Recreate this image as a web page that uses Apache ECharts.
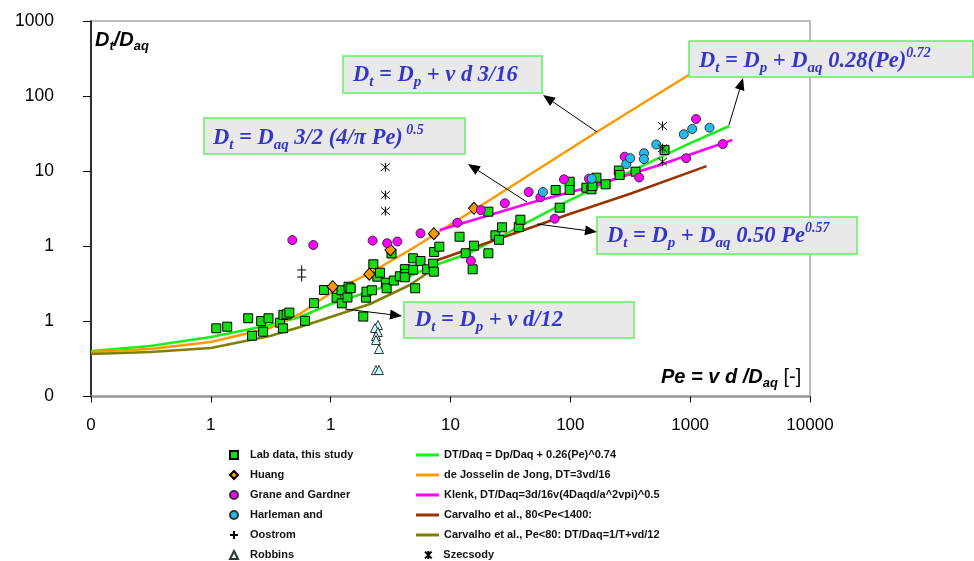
<!DOCTYPE html>
<html><head><meta charset="utf-8">
<script src="https://cdn.jsdelivr.net/npm/echarts@6/dist/echarts.min.js"></script>
<style>html,body{margin:0;padding:0;background:#fff}#c{width:974px;height:561px}</style>
</head><body><div id="c"></div>
<script>
// ---- tick labels ----
const xTickValues = [0.01, 0.1, 1, 10, 100, 1000, 10000];
const xTickLabels = ['0', '1', '1', '10', '100', '1000', '10000'];
const yTickValues = [0.01, 0.1, 1, 10, 100, 1000];
const yTickLabels = ['0', '1', '1', '10', '100', '1000'];

// ---- scatter data (Pe, Dt/Daq) ----
const labPe = [0.111,0.137,0.205,0.221,0.263,0.273,0.303,0.378,0.403,0.400,0.430,0.452,0.611,0.726,0.879,1.12,1.23,1.24,1.38,1.41,1.47,1.87,1.97,1.99,2.21,2.27,2.45,2.58,2.89,2.93,3.22,3.37,3.78,4.16,4.20,4.16,4.88,4.88,5.07,5.62,6.38,7.16,7.26,7.30,8.07,11.9,13.4,15.7,15.3,20.7,20.7,23.7,25.4,26.9,37.1,38.3,81.5,75.4,98.7,98.7,136,150,153,165,197,254,258,350,611];
const labDt = [0.0809,0.085,0.110,0.0645,0.101,0.0729,0.110,0.0961,0.122,0.0809,0.124,0.131,0.102,0.175,0.262,0.207,0.260,0.174,0.208,0.290,0.276,0.116,0.207,0.249,0.260,0.576,0.394,0.445,0.328,0.276,0.802,0.350,0.399,0.496,0.428,0.387,0.692,0.488,0.276,0.637,0.494,0.587,0.459,0.840,0.988,1.34,0.807,1.02,0.494,2.89,0.807,1.40,1.22,1.79,1.81,2.26,3.27,5.62,7.25,5.62,6.03,5.74,6.35,8.19,6.69,10.2,8.90,9.85,19.2];

const huangPe = [1.04, 2.10, 3.15, 7.26, 15.7];
const huangDt = [0.290, 0.425, 0.893, 1.47, 3.21];

const granePe = [0.479,0.716,2.24,2.96,3.60,5.62,11.4,14.8,17.9,28.4,44.9,56.2,74.0,88.5,143,284,375,926,1120,1870];
const graneDt = [1.21,1.04,1.19,1.10,1.16,1.49,2.06,0.643,3.04,3.74,5.28,4.49,2.33,7.80,7.95,15.6,8.24,14.9,49.6,23.0];

const harlemanPe = [59.1,151,293,316,412,411,521,885,1040,1450];
const harlemanDt = [5.28,7.95,12.4,14.9,17.3,14.5,22.7,31.0,36.5,38.0];

const oostromPe = [0.573, 0.573];
const oostromDt = [0.484, 0.390];

const robbinsPe = [2.48,2.34,2.48,2.39,2.39,2.53,2.39,2.53];
const robbinsDt = [0.0896,0.0817,0.0723,0.0639,0.0565,0.0429,0.0225,0.0225];

const szecsodyPe = [2.86,2.86,2.86,588,588,588];
const szecsodyDt = [11.3,4.82,2.95,40.0,20.2,13.4];

// ---- model curves ----
const fitPe = [0.01,0.0312,0.1,0.312,0.555,1,3.12,6.72,14.5,45.8,100,312,1000,2130];
const fitDt = [0.0404,0.047,0.062,0.0896,0.1145,0.1705,0.305,0.530,0.814,2.17,4.14,9.76,23.7,40.0];

const jongPe = [0.01,0.0312,0.1,0.312,0.555,1,2.13,4.58,21.3,166,555,2250];
const jongDt = [0.0391,0.0429,0.0532,0.0817,0.1255,0.239,0.441,0.893,4.14,33.3,110,437];

const klenkPe = [8.14,21.3,45.8,145,555,2250];
const klenkDt = [1.65,2.61,3.77,6.16,12.1,26.0];

const carv1Pe = [7.40,45.8,98.7,312,1370];
const carv1Dt = [0.637,1.75,2.69,4.97,11.7];

const carv2Pe = [0.01,0.0312,0.1,0.312,0.555,1,2.13,4.58,7.40];
const carv2Dt = [0.0368,0.0391,0.0442,0.0639,0.0842,0.1145,0.1705,0.3053,0.514];

const zip = (a, b) => a.map((v, i) => [v, b[i]]);

const N = {
  lab: 'Lab data, this study', huang: 'Huang', grane: 'Grane and Gardner', harl: 'Harleman and',
  oost: 'Oostrom', robb: 'Robbins',
  fit: 'DT/Daq = Dp/Daq + 0.26(Pe)^0.74', jong: 'de Josselin de Jong, DT=3vd/16',
  klenk: 'Klenk, DT/Daq=3d/16v(4Daqd/a^2vpi)^0.5', carv1: 'Carvalho et al., 80<Pe<1400:',
  carv2: 'Carvalho et al., Pe<80: DT/Daq=1/T+vd/12', szec: 'Szecsody'
};

function labelFor(vals, labs) {
  return function (v) {
    for (let i = 0; i < vals.length; i++) if (Math.abs(Math.log10(v) - Math.log10(vals[i])) < 1e-6) return labs[i];
    return '';
  };
}

function lineSeries(name, data, color) {
  return { name, type: 'line', data, symbol: 'none', showSymbol: false, z: 2,
    lineStyle: { color, width: 2.5 }, itemStyle: { color }, emphasis: { disabled: true } };
}
function scatter(name, data, symbol, size, fill, border) {
  return { name, type: 'scatter', data, symbol, symbolSize: size, z: 4,
    itemStyle: { color: fill, borderColor: border || '#000', borderWidth: 1, opacity: 1 },
    emphasis: { disabled: true } };
}

const PLUS = 'path://M5,0L5,10M0,5L10,5';
const STAR = 'path://M0,0L10,10M10,0L0,10M5,-1L5,11';

// ---- annotation helpers (decorative, pixel placed) ----
const serif = 'Liberation Serif';
const blue = '#3535c9';
const rich = {
  m: { fontFamily: serif, fontStyle: 'italic', fontWeight: 'bold', fontSize: 22.5, lineHeight: 30, fill: blue, color: blue },
  s: { fontFamily: serif, fontStyle: 'italic', fontWeight: 'bold', fontSize: 15, lineHeight: 12, verticalAlign: 'bottom', fill: blue, color: blue },
  u: { fontFamily: serif, fontStyle: 'italic', fontWeight: 'bold', fontSize: 14, lineHeight: 12, verticalAlign: 'top', fill: blue, color: blue }
};
function box(x, y, w, h, tx, ty, text) {
  return [
    { type: 'rect', shape: { x, y, width: w, height: h }, style: { fill: '#e9e9e9', stroke: '#5ff05f', lineWidth: 1.5 }, z: 10 },
    { type: 'text', x: tx, y: ty, z: 11, style: { text, rich, verticalAlign: 'middle', textVerticalAlign: 'middle', align: 'left', textAlign: 'left' } }
  ];
}
function arrow(x1, y1, x2, y2) {
  const dx = x2 - x1, dy = y2 - y1, L = Math.hypot(dx, dy), ux = dx / L, uy = dy / L;
  const hl = 12, hw = 5;
  const bx = x2 - ux * hl, by = y2 - uy * hl;
  return [
    { type: 'line', shape: { x1, y1, x2: bx, y2: by }, style: { stroke: '#000', lineWidth: 1 }, z: 12 },
    { type: 'polygon', shape: { points: [[x2, y2], [bx - uy * hw, by + ux * hw], [bx + uy * hw, by - ux * hw]] }, style: { fill: '#000' }, z: 12 }
  ];
}
const sans = 'Liberation Sans';
const axRich = {
  b: { fontFamily: sans, fontStyle: 'italic', fontWeight: 'bold', fontSize: 20, lineHeight: 26, fill: '#000', color: '#000' },
  bs: { fontFamily: sans, fontStyle: 'italic', fontWeight: 'bold', fontSize: 13, lineHeight: 10, verticalAlign: 'bottom', fill: '#000', color: '#000' },
  n: { fontFamily: sans, fontSize: 20, lineHeight: 26, fill: '#000', color: '#000' }
};

const graphic = [].concat(
  box(343, 56, 199, 37, 353, 75, '{m|D}{s|t}{m| = D}{s|p}{m| + v d 3/16}'),
  box(204, 118, 261, 36, 213, 138, '{m|D}{s|t}{m| = D}{s|aq}{m| 3/2 (4/π Pe)}{u| 0.5}'),
  box(689, 41, 284, 36, 699, 61, '{m|D}{s|t}{m| = D}{s|p}{m| + D}{s|aq}{m| 0.28(Pe)}{u|0.72}'),
  box(597, 217, 260, 37, 607, 236, '{m|D}{s|t}{m| = D}{s|p}{m| + D}{s|aq}{m| 0.50 Pe}{u|0.57}'),
  box(404, 302, 230, 36, 415, 320, '{m|D}{s|t}{m| = D}{s|p}{m| + v d/12}'),
  arrow(597, 132, 543, 95),
  arrow(527, 202, 468, 164),
  arrow(729, 125, 743, 78),
  arrow(537, 224, 597, 232),
  arrow(345, 309, 402, 316),
  [
    { type: 'text', x: 95, y: 40, z: 11, style: { text: '{b|D}{bs|t}{b|/D}{bs|aq}', rich: axRich, verticalAlign: 'middle', textVerticalAlign: 'middle' } },
    { type: 'text', x: 661, y: 377, z: 11, style: { text: '{b|Pe = v d /D}{bs|aq}{n| [-]}', rich: axRich, verticalAlign: 'middle', textVerticalAlign: 'middle' } }
  ]
);

const legendText = { fontFamily: sans, fontWeight: 'bold', fontSize: 11, color: '#111', lineHeight: 14 };
const legendTextPad = Object.assign({}, legendText, { padding: [0, 0, 0, 7] });
const legendBase = { orient: 'vertical', padding: 0, itemGap: 6, selectedMode: false };

const option = {
  animation: false,
  backgroundColor: '#fff',
  grid: { left: 91, right: 164, top: 21, bottom: 164.5, show: true, borderColor: '#a8a8a8', borderWidth: 1.5, backgroundColor: 'transparent' },
  xAxis: {
    type: 'log', logBase: 10, min: 0.01, max: 10000,
    axisLine: { show: true, lineStyle: { color: '#9a9a9a', width: 2.5 } },
    axisTick: { show: true, length: 6, lineStyle: { color: '#000', width: 1 } },
    minorTick: { show: false }, splitLine: { show: false },
    axisLabel: { margin: 20, fontFamily: sans, fontSize: 17, color: '#000', formatter: labelFor(xTickValues, xTickLabels) }
  },
  yAxis: {
    type: 'log', logBase: 10, min: 0.01, max: 1000,
    axisLine: { show: true, lineStyle: { color: '#000', width: 1.5 } },
    axisTick: { show: true, length: 8, lineStyle: { color: '#000', width: 1 } },
    minorTick: { show: false }, splitLine: { show: false },
    axisLabel: { margin: 37, fontFamily: sans, fontSize: 17.5, color: '#000', formatter: labelFor(yTickValues, yTickLabels) }
  },
  legend: [
    Object.assign({}, legendBase, { left: 229, top: 448, itemWidth: 8, itemHeight: 8, textStyle: legendTextPad,
      data: [N.lab, N.huang, N.grane, N.harl, N.oost] }),
    Object.assign({}, legendBase, { left: 229, top: 548, itemWidth: 8, itemHeight: 8, textStyle: legendTextPad,
      data: [N.robb] }),
    Object.assign({}, legendBase, { left: 416, top: 448, itemWidth: 23, itemHeight: 3, textStyle: legendText,
      data: [N.fit, N.jong, N.klenk, N.carv1, N.carv2].map(n => ({ name: n, icon: 'rect' })) }),
    Object.assign({}, legendBase, { left: 424, top: 548, itemWidth: 8, itemHeight: 8,
      textStyle: Object.assign({}, legendText, { padding: [0, 0, 0, 6] }), data: [N.szec] })
  ],
  series: [
    lineSeries(N.fit, zip(fitPe, fitDt), '#19f019'),
    lineSeries(N.jong, zip(jongPe, jongDt), '#ff9900'),
    lineSeries(N.klenk, zip(klenkPe, klenkDt), '#ff00ff'),
    lineSeries(N.carv1, zip(carv1Pe, carv1Dt), '#993300'),
    lineSeries(N.carv2, zip(carv2Pe, carv2Dt), '#808000'),
    scatter(N.lab, zip(labPe, labDt), 'rect', 9, '#12dc12'),
    scatter(N.huang, zip(huangPe, huangDt), 'diamond', [11, 12], '#ff9900'),
    scatter(N.grane, zip(granePe, graneDt), 'circle', 9, '#ff00ff', '#333'),
    scatter(N.harl, zip(harlemanPe, harlemanDt), 'circle', 9, '#22bbee', '#333'),
    scatter(N.oost, zip(oostromPe, oostromDt), PLUS, 9, 'rgba(0,0,0,0)', '#000'),
    scatter(N.robb, zip(robbinsPe, robbinsDt), 'triangle', 9, '#ccffff', '#333'),
    scatter(N.szec, zip(szecsodyPe, szecsodyDt), STAR, 9, 'rgba(0,0,0,0)', '#000')
  ],
  graphic: { elements: graphic }
};

const chart = echarts.init(document.getElementById('c'), null, { renderer: 'canvas' });
chart.setOption(option);
</script>
</body></html>
